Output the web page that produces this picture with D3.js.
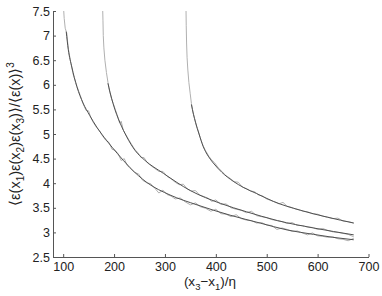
<!DOCTYPE html>
<html lang="en">
<head>
    <meta charset="UTF-8">
    <title>Three-point correlation</title>
    <script src="https://d3js.org/d3.v7.min.js"></script>
    <style>
        body { margin: 0; background: #fff; }
        svg { display: block; }
        text { font-family: "Liberation Sans", Arial, sans-serif; fill: #222; }
    </style>
</head>
<body>
<div id="chart"></div>
<script>
    // Axis ticks
    const xTicks = [100, 200, 300, 400, 500, 600, 700];
    const yTicks = [2.5, 3, 3.5, 4, 4.5, 5, 5.5, 6, 6.5, 7, 7.5];

    // Measured curves (light, noisy) as [x, y]
    const data1 = [[100.5, 7.6], [102, 7.35], [104, 7.15], [107, 7.05], [110, 6.74], [115, 6.45], [120, 6.2], [127, 5.97], [133, 5.80], [139, 5.62], [145, 5.48], [150, 5.47], [154, 5.34], [160, 5.22], [166, 5.13], [172, 5.06], [178, 4.95], [184, 4.87], [190, 4.83], [196, 4.69], [202, 4.67], [208, 4.60], [214, 4.46], [220, 4.50], [226, 4.36], [232, 4.30], [240, 4.22], [248, 4.19], [256, 4.06], [264, 4.01], [272, 3.99], [280, 3.90], [288, 3.80], [296, 3.86], [304, 3.77], [312, 3.74], [320, 3.68], [330, 3.70], [340, 3.62], [350, 3.56], [360, 3.60], [370, 3.52], [380, 3.49], [390, 3.43], [400, 3.47], [410, 3.38], [420, 3.37], [430, 3.32], [440, 3.36], [450, 3.28], [460, 3.25], [470, 3.24], [480, 3.19], [490, 3.20], [500, 3.15], [510, 3.14], [520, 3.06], [530, 3.09], [540, 3.06], [550, 3.02], [560, 3.03], [570, 2.99], [580, 2.95], [590, 2.99], [600, 2.93], [610, 2.92], [620, 2.90], [630, 2.91], [640, 2.87], [650, 2.86], [660, 2.83], [671, 2.88]];
    const data2 = [[177.5, 7.6], [178.2, 7.3], [178.8, 7.0], [180, 6.75], [182, 6.5], [185, 6.25], [188, 6.05], [191, 5.88], [195, 5.72], [199, 5.6], [203, 5.48], [207, 5.36], [211, 5.22], [214, 5.26], [218, 5.08], [223, 4.99], [229, 4.88], [235, 4.78], [241, 4.68], [247, 4.62], [253, 4.52], [259, 4.52], [265, 4.42], [272, 4.36], [280, 4.30], [288, 4.24], [296, 4.24], [304, 4.14], [312, 4.09], [320, 4.02], [328, 3.97], [336, 3.98], [344, 3.88], [352, 3.84], [360, 3.85], [368, 3.76], [376, 3.73], [384, 3.70], [392, 3.63], [400, 3.66], [410, 3.57], [420, 3.58], [430, 3.5], [440, 3.47], [450, 3.45], [460, 3.40], [470, 3.43], [480, 3.34], [490, 3.32], [500, 3.30], [510, 3.26], [520, 3.24], [530, 3.22], [540, 3.18], [550, 3.20], [560, 3.14], [570, 3.14], [580, 3.11], [590, 3.10], [600, 3.06], [610, 3.08], [620, 3.04], [630, 3.01], [640, 3.0], [650, 2.98], [660, 2.96], [671, 2.91]];
    const data3 = [[341.3, 7.6], [341.8, 7.2], [342.5, 6.85], [343.5, 6.55], [345, 6.3], [347, 6.05], [349.5, 5.83], [352, 5.62], [355, 5.45], [358, 5.33], [362, 5.16], [366, 5.04], [370, 4.9], [375, 4.76], [380, 4.66], [386, 4.55], [392, 4.47], [398, 4.41], [405, 4.31], [412, 4.24], [420, 4.15], [428, 4.10], [436, 4.03], [444, 4.02], [452, 3.92], [460, 3.89], [468, 3.84], [476, 3.83], [484, 3.76], [492, 3.74], [500, 3.68], [508, 3.65], [516, 3.62], [524, 3.58], [532, 3.61], [540, 3.53], [548, 3.51], [556, 3.48], [564, 3.46], [572, 3.43], [580, 3.42], [590, 3.38], [600, 3.37], [610, 3.33], [620, 3.31], [630, 3.28], [640, 3.29], [650, 3.23], [660, 3.22], [671, 3.19]];

    // Fitted curves (dark, smooth)
    const fit1 = [[106, 7.08], [110, 6.72], [117, 6.36], [127, 5.96], [139, 5.63], [152, 5.38], [166, 5.14], [186, 4.86], [206, 4.61], [231, 4.32], [265, 4.01], [310, 3.76], [363, 3.56], [428, 3.35], [487, 3.19], [540, 3.05], [592, 2.96], [630, 2.9], [671, 2.85]];
    const fit2 = [[188, 6.03], [192, 5.85], [198, 5.62], [205, 5.40], [212, 5.22], [225, 4.94], [241, 4.67], [260, 4.47], [297, 4.2], [350, 3.85], [409, 3.59], [460, 3.42], [521, 3.24], [592, 3.09], [671, 2.95]];
    const fit3 = [[352, 5.6], [356, 5.4], [360, 5.24], [367, 5.0], [375, 4.75], [385, 4.55], [395, 4.41], [412, 4.22], [434, 4.04], [455, 3.91], [480, 3.79], [513, 3.63], [566, 3.45], [619, 3.31], [671, 3.19]];

    const width = 382, height = 296;
    const plotLeft = 53, plotRight = 368.5, plotTop = 11, plotBottom = 257;

    const svg = d3.select("#chart").append("svg")
        .attr("width", width)
        .attr("height", height);

    const x = d3.scaleLinear().domain([80, 700]).range([plotLeft, plotRight]);
    const y = d3.scaleLinear().domain([2.5, 7.5]).range([plotBottom, plotTop]);

    svg.append("clipPath").attr("id", "plot")
        .append("rect")
        .attr("x", plotLeft).attr("y", plotTop)
        .attr("width", plotRight - plotLeft).attr("height", plotBottom - plotTop);

    const line = d3.line()
        .x(d => x(d[0]))
        .y(d => y(d[1]))
        .curve(d3.curveMonotoneX);

    const rawLine = d3.line()
        .x(d => x(d[0]))
        .y(d => y(d[1]));

    const curves = svg.append("g").attr("clip-path", "url(#plot)").attr("fill", "none");

    curves.selectAll(".data")
        .data([data1, data2, data3])
        .join("path")
        .attr("class", "data")
        .attr("d", rawLine)
        .attr("stroke", "#b0b0b0")
        .attr("stroke-width", 1);

    curves.selectAll(".fit")
        .data([fit1, fit2, fit3])
        .join("path")
        .attr("class", "fit")
        .attr("d", line)
        .attr("stroke", "#505050")
        .attr("stroke-width", 1);

    // Axes, MATLAB style with inward ticks
    const xAxis = svg.append("g")
        .attr("transform", `translate(0,${plotBottom})`)
        .call(d3.axisBottom(x).tickValues(xTicks).tickSizeInner(-3).tickSizeOuter(0).tickPadding(5));

    const yAxis = svg.append("g")
        .attr("transform", `translate(${plotLeft},0)`)
        .call(d3.axisLeft(y).tickValues(yTicks).tickSizeInner(-3).tickSizeOuter(0).tickPadding(3)
            .tickFormat(d3.format("~g")));

    [xAxis, yAxis].forEach(a => {
        a.select(".domain").attr("stroke", "#555");
        a.selectAll(".tick line").attr("stroke", "#555");
        a.selectAll(".tick text").attr("font-size", 12.5).attr("fill", "#222")
            .attr("font-family", "Liberation Sans, Arial, sans-serif");
    });

    // x label: (x3-x1)/eta
    const xl = svg.append("text")
        .attr("x", 210).attr("y", 286)
        .attr("text-anchor", "middle")
        .attr("font-size", 13.5);
    xl.append("tspan").text("(x");
    xl.append("tspan").text("3").attr("font-size", 9.5).attr("dy", 4);
    xl.append("tspan").text("\u2212x").attr("dy", -4);
    xl.append("tspan").text("1").attr("font-size", 9.5).attr("dy", 4);
    xl.append("tspan").text(")/\u03b7").attr("dy", -4);

    // y label
    const yl = svg.append("text")
        .attr("transform", "translate(20,134) rotate(-90)")
        .attr("text-anchor", "middle")
        .attr("font-size", 14.5);
    const parts = [
        ["\u27e8\u03b5(x", 0, null], ["1", 4, 10], [")\u03b5(x", -4, null], ["2", 4, 10],
        [")\u03b5(x", -4, null], ["3", 4, 10], [")\u27e9/\u27e8\u03b5(x)\u27e9", -4, null], ["3", -6, 10]
    ];
    parts.forEach(([t, dy, fs]) => {
        const s = yl.append("tspan").text(t).attr("dy", dy);
        if (fs) s.attr("font-size", fs);
    });
</script>
</body>
</html>
